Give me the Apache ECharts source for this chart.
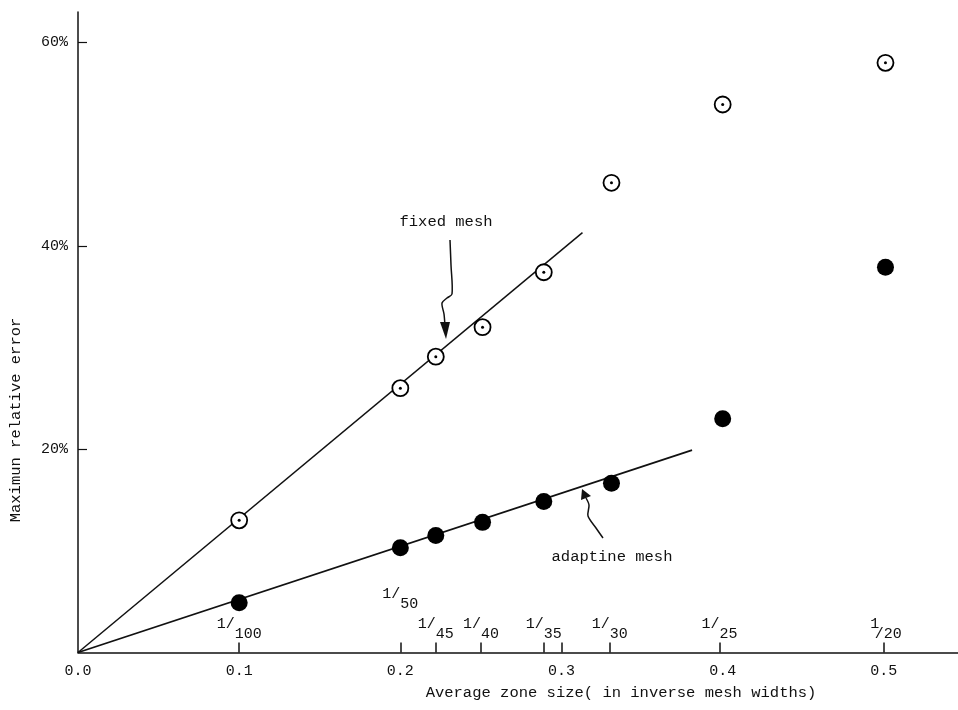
<!DOCTYPE html>
<html>
<head>
<meta charset="utf-8">
<title>Maximum relative error</title>
<script src="https://cdn.jsdelivr.net/npm/echarts@6/dist/echarts.min.js"></script>
<style>
  html, body { margin: 0; padding: 0; background: #fff; }
  #chart { width: 958px; height: 710px; }
</style>
</head>
<body>
<div id="chart"></div>
<script>
// zone sizes of the runs (x) and errors in percent (y)
var zoneSize = [0.1, 0.2, 0.222, 0.251, 0.289, 0.331, 0.400, 0.501];
var fixedErr = [13.0, 26.0, 29.1, 32.0, 37.4, 46.2, 53.9, 58.0];
var adaptErr = [4.9, 10.3, 11.5, 12.8, 14.85, 16.65, 23.0, 37.9];

// fitted lines drawn by hand on the original
var fixedFitX = [0, 0.313];
var fixedFitY = [0, 41.3];
var adaptFitX = [0, 0.381];
var adaptFitY = [0, 19.9];

// axes
var xTicks = [0, 0.1, 0.2, 0.3, 0.4, 0.5];
var xMarks = [0.1, 0.2, 0.222, 0.25, 0.289, 0.3, 0.33, 0.398, 0.5];
var yTicks = [20, 40, 60];
var meshAt = [0.1, 0.2, 0.222, 0.25, 0.289, 0.33, 0.398, 0.5];
var meshN = ['100', '50', '45', '40', '35', '30', '25', '20'];

var FONT = '"Liberation Mono", "DejaVu Sans Mono", monospace';
var INK = '#111';

function pairs(xs, ys) {
  var out = [];
  for (var i = 0; i < xs.length; i++) out.push([xs[i], ys[i]]);
  return out;
}

// "1/" raised, the number dropped half a line: two monospace lines
function meshLabel(v) {
  var i = meshAt.indexOf(v);
  if (i < 0) return '';
  var n = meshN[i];
  var pad = new Array(n.length + 1).join(' ');
  var s;
  if (n === '20') s = '1  \n /20';
  else s = '1/' + pad + '\n  ' + n;
  if (n === '50') s += '\n \n \n ';
  return s;
}

var chart = echarts.init(document.getElementById('chart'));

chart.setOption({
  animation: false,
  backgroundColor: '#fff',
  grid: { left: 78, right: 0, top: 12, bottom: 57.5, containLabel: false },
  xAxis: [{
    type: 'value', min: 0, max: 0.546,
    splitLine: { show: false },
    axisLine: { lineStyle: { color: INK, width: 1.5 } },
    axisTick: { inside: true, length: 10, customValues: xMarks, lineStyle: { color: INK, width: 1.5 } },
    axisLabel: {
      customValues: xTicks, margin: 11, color: INK, fontFamily: FONT, fontSize: 15,
      formatter: function (v) { return v.toFixed(1); }
    }
  }, {
    // 1/N labels sitting above the axis
    type: 'value', min: 0, max: 0.546, position: 'bottom',
    splitLine: { show: false },
    axisLine: { show: false },
    axisTick: { show: false },
    axisLabel: {
      inside: true, margin: 13, customValues: meshAt, color: INK,
      fontFamily: FONT, fontSize: 15, lineHeight: 10,
      formatter: meshLabel
    }
  }],
  yAxis: {
    type: 'value', min: 0, max: 63,
    splitLine: { show: false },
    axisLine: { lineStyle: { color: INK, width: 1.5 } },
    axisTick: { inside: true, length: 9, customValues: yTicks, lineStyle: { color: INK, width: 1.2 } },
    axisLabel: {
      customValues: yTicks, margin: 10, color: INK, fontFamily: FONT, fontSize: 15,
      formatter: function (v) { return v + '%'; }
    }
  },
  series: [
    {
      type: 'line', data: pairs(fixedFitX, fixedFitY), showSymbol: false, silent: true,
      lineStyle: { color: INK, width: 1.5 }
    },
    {
      type: 'line', data: pairs(adaptFitX, adaptFitY), showSymbol: false, silent: true,
      lineStyle: { color: INK, width: 1.8 }
    },
    {
      name: 'fixed mesh', type: 'scatter', data: pairs(zoneSize, fixedErr),
      symbol: 'circle', symbolSize: 16, z: 3,
      itemStyle: { color: '#fff', borderColor: '#000', borderWidth: 1.8, opacity: 1 }
    },
    {
      // centre dot of the open circles
      type: 'scatter', data: pairs(zoneSize, fixedErr), silent: true,
      symbol: 'circle', symbolSize: 3, z: 4,
      itemStyle: { color: '#000', opacity: 1 }
    },
    {
      name: 'adaptine mesh', type: 'scatter', data: pairs(zoneSize, adaptErr),
      symbol: 'circle', symbolSize: 17, z: 3,
      itemStyle: { color: '#000', opacity: 1 }
    }
  ],
  graphic: [
    // axis titles
    {
      type: 'text', x: 621, y: 693,
      style: { text: 'Average zone size( in inverse mesh widths)', font: '15.5px ' + FONT, fill: INK, align: 'center', verticalAlign: 'middle' }
    },
    {
      type: 'text', x: 16, y: 420, rotation: Math.PI / 2,
      style: { text: 'Maximun relative error', font: '15.5px ' + FONT, fill: INK, align: 'center', verticalAlign: 'middle' }
    },
    // annotations
    {
      type: 'text', x: 446, y: 222,
      style: { text: 'fixed mesh', font: '15.5px ' + FONT, fill: INK, align: 'center', verticalAlign: 'middle' }
    },
    {
      type: 'polyline', silent: true,
      shape: { points: [[450, 240], [451, 265], [452, 294], [447, 298], [442, 303], [444, 314], [445, 326]], smooth: 0.3 },
      style: { stroke: INK, lineWidth: 1.5, fill: null }
    },
    {
      type: 'polygon', silent: true,
      shape: { points: [[440, 322], [450, 322], [446, 339]] },
      style: { fill: INK }
    },
    {
      type: 'text', x: 612, y: 557,
      style: { text: 'adaptine mesh', font: '15.5px ' + FONT, fill: INK, align: 'center', verticalAlign: 'middle' }
    },
    {
      type: 'polyline', silent: true,
      shape: { points: [[603, 538], [596, 528], [588, 516], [589, 505], [586, 498]], smooth: 0.3 },
      style: { stroke: INK, lineWidth: 1.5, fill: null }
    },
    {
      type: 'polygon', silent: true,
      shape: { points: [[581, 500], [591, 496], [582, 489]] },
      style: { fill: INK }
    }
  ]
});
</script>
</body>
</html>
